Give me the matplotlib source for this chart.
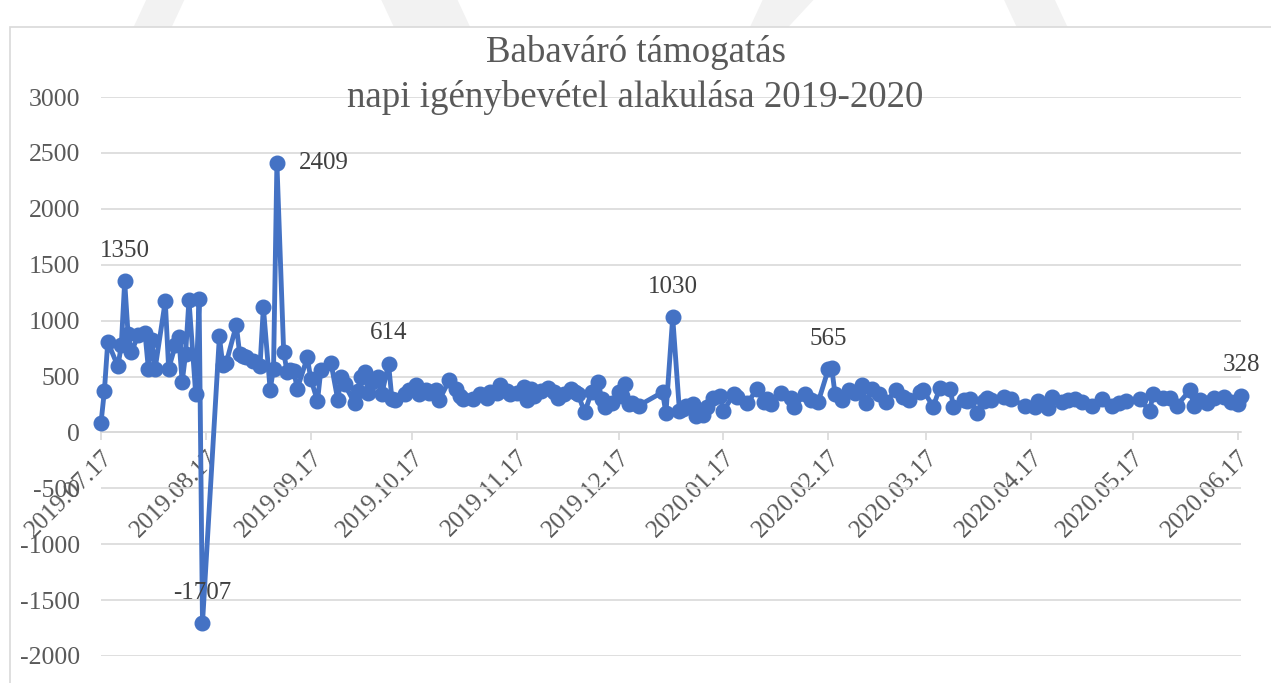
import matplotlib
matplotlib.use("Agg")
import matplotlib.pyplot as plt
from matplotlib.patches import Rectangle, Polygon
from datetime import datetime

dates = [
    "2019.07.17", "2019.07.18", "2019.07.19", "2019.07.22", "2019.07.23", "2019.07.24",
    "2019.07.25", "2019.07.26", "2019.07.28", "2019.07.30", "2019.07.31", "2019.08.01",
    "2019.08.02", "2019.08.05", "2019.08.06", "2019.08.08", "2019.08.09", "2019.08.10",
    "2019.08.11", "2019.08.12", "2019.08.14", "2019.08.15", "2019.08.16", "2019.08.21",
    "2019.08.22", "2019.08.23", "2019.08.26", "2019.08.27", "2019.08.28", "2019.08.29",
    "2019.08.31", "2019.09.02", "2019.09.03", "2019.09.05", "2019.09.06", "2019.09.07",
    "2019.09.09", "2019.09.10", "2019.09.11", "2019.09.12", "2019.09.13", "2019.09.16",
    "2019.09.17", "2019.09.19", "2019.09.20", "2019.09.23", "2019.09.25", "2019.09.26",
    "2019.09.27", "2019.09.30", "2019.10.01", "2019.10.02", "2019.10.03", "2019.10.04",
    "2019.10.05", "2019.10.07", "2019.10.08", "2019.10.10", "2019.10.11", "2019.10.12",
    "2019.10.15", "2019.10.16", "2019.10.18", "2019.10.19", "2019.10.21", "2019.10.22",
    "2019.10.24", "2019.10.25", "2019.10.28", "2019.10.30", "2019.10.31", "2019.11.01",
    "2019.11.04", "2019.11.06", "2019.11.08", "2019.11.09", "2019.11.11", "2019.11.12",
    "2019.11.14", "2019.11.15", "2019.11.17", "2019.11.19", "2019.11.20", "2019.11.21",
    "2019.11.22", "2019.11.24", "2019.11.26", "2019.11.28", "2019.11.29", "2019.12.01",
    "2019.12.03", "2019.12.04", "2019.12.05", "2019.12.07", "2019.12.09", "2019.12.11",
    "2019.12.12", "2019.12.13", "2019.12.15", "2019.12.17", "2019.12.18", "2019.12.19",
    "2019.12.20", "2019.12.21", "2019.12.23", "2019.12.30", "2019.12.31", "2020.01.02",
    "2020.01.04", "2020.01.05", "2020.01.06", "2020.01.08", "2020.01.09", "2020.01.11",
    "2020.01.12", "2020.01.14", "2020.01.16", "2020.01.17", "2020.01.20", "2020.01.21",
    "2020.01.24", "2020.01.27", "2020.01.29", "2020.01.30", "2020.01.31", "2020.02.03",
    "2020.02.06", "2020.02.07", "2020.02.10", "2020.02.12", "2020.02.14", "2020.02.17",
    "2020.02.18", "2020.02.19", "2020.02.21", "2020.02.23", "2020.02.25", "2020.02.27",
    "2020.02.28", "2020.03.01", "2020.03.03", "2020.03.05", "2020.03.08", "2020.03.10",
    "2020.03.12", "2020.03.15", "2020.03.16", "2020.03.19", "2020.03.21", "2020.03.24",
    "2020.03.25", "2020.03.28", "2020.03.29", "2020.03.30", "2020.04.01", "2020.04.03",
    "2020.04.04", "2020.04.05", "2020.04.09", "2020.04.11", "2020.04.15", "2020.04.18",
    "2020.04.19", "2020.04.22", "2020.04.23", "2020.04.26", "2020.04.28", "2020.04.30",
    "2020.05.02", "2020.05.05", "2020.05.08", "2020.05.11", "2020.05.13", "2020.05.15",
    "2020.05.19", "2020.05.22", "2020.05.23", "2020.05.26", "2020.05.28", "2020.05.30",
    "2020.06.03", "2020.06.04", "2020.06.06", "2020.06.08", "2020.06.10", "2020.06.13",
    "2020.06.15", "2020.06.17", "2020.06.18",
]

values = [
    85, 370, 810, 590, 780, 1350,
    880, 720, 870, 890, 570, 830,
    570, 1175, 570, 780, 850, 450,
    700, 1185, 340, 1190, -1707, 860,
    600, 620, 960, 700, 680, 670,
    640, 590, 1120, 380, 570, 2409,
    720, 540, 560, 550, 390, 670,
    480, 280, 560, 620, 290, 500,
    430, 260, 370, 500, 540, 350,
    450, 500, 340, 614, 300, 290,
    340, 380, 420, 340, 380, 350,
    380, 290, 470, 390, 330, 300,
    300, 340, 310, 360, 350, 420,
    370, 340, 350, 410, 290, 390,
    330, 370, 400, 360, 310, 340,
    390, 360, 340, 180, 360, 450,
    300, 230, 260, 360, 330, 430,
    250, 260, 240, 360, 170, 1030,
    190, 210, 240, 250, 150, 160,
    230, 310, 330, 190, 340, 320,
    260, 390, 270, 300, 250, 350,
    310, 230, 340, 290, 270, 565,
    580, 340, 290, 380, 350, 420,
    260, 390, 340, 270, 380, 320,
    290, 360, 380, 230, 400, 390,
    230, 290, 280, 300, 170, 280,
    310, 290, 320, 300, 240, 230,
    280, 220, 320, 270, 290, 300,
    270, 240, 300, 240, 260, 280,
    300, 190, 340, 310, 310, 240,
    380, 240, 290, 260, 310, 320,
    270, 250, 328,
]

# labelled points: (date, value, placement)
labels = [
    ("2019.07.24", 1350, "above"),
    ("2019.09.07", 2409, "right"),
    ("2019.08.16", -1707, "above"),
    ("2019.10.10", 614, "above"),
    ("2020.01.02", 1030, "above"),
    ("2020.02.17", 565, "above"),
    ("2020.06.18", 328, "above"),
]

tick_labels = ["2019.07.17", "2019.08.17", "2019.09.17", "2019.10.17", "2019.11.17",
               "2019.12.17", "2020.01.17", "2020.02.17", "2020.03.17", "2020.04.17",
               "2020.05.17", "2020.06.17"]
y_ticks = [-2000, -1500, -1000, -500, 0, 500, 1000, 1500, 2000, 2500, 3000]

title = "Babaváró támogatás\nnapi igénybevétel alakulása 2019-2020"

LINE = "#4472C4"
GRID = "#D9D9D9"
TXT = "#595959"
FONT = "Liberation Serif"


def parse(s):
    return datetime.strptime(s, "%Y.%m.%d")


x = [parse(d) for d in dates]

fig = plt.figure(figsize=(12.71, 6.83), dpi=100)
fig.patch.set_facecolor("white")

# faint background watermark strip above chart area
for pts in [[(0.115, 1.0), (0.145, 1.0), (0.135, 0.96), (0.105, 0.96)],
            [(0.30, 1.0), (0.36, 1.0), (0.37, 0.96), (0.31, 0.96)],
            [(0.60, 1.0), (0.64, 1.0), (0.62, 0.96), (0.59, 0.96)],
            [(0.79, 1.0), (0.83, 1.0), (0.84, 0.96), (0.80, 0.96)]]:
    fig.patches.append(Polygon(pts, closed=True, transform=fig.transFigure,
                               facecolor="#F2F2F2", edgecolor="none", zorder=0))

# chart area border
fig.patches.append(Rectangle((10 / 1271, -0.01), 1.2, (683 - 27) / 683 + 0.01,
                             transform=fig.transFigure, facecolor="white",
                             edgecolor=GRID, linewidth=1.2, zorder=0.5))

ax = fig.add_axes([101 / 1271, 27 / 683, 1140 / 1271, 559 / 683])
ax.set_zorder(2)
ax.set_facecolor("none")

ax.plot(x, values, color=LINE, linewidth=3.5, marker="o", markersize=10.5,
        markerfacecolor=LINE, markeredgecolor=LINE, zorder=3, clip_on=False)

ax.set_ylim(-2000, 3000)
ax.set_xlim(parse(dates[0]), parse(dates[-1]))
ax.set_yticks(y_ticks)
ax.set_yticklabels([str(v) for v in y_ticks], fontsize=18.5, color=TXT, family=FONT)
ax.tick_params(axis="y", length=0, pad=15)
ax.grid(axis="y", color=GRID, linewidth=1.2)
ax.set_axisbelow(True)

for s in ["top", "right", "left"]:
    ax.spines[s].set_visible(False)
ax.spines["bottom"].set_position(("data", 0))
ax.spines["bottom"].set_color(GRID)
ax.spines["bottom"].set_linewidth(1.2)

ax.set_xticks([parse(t) for t in tick_labels])
ax.set_xticklabels(tick_labels, rotation=45, ha="right", va="top",
                   rotation_mode="anchor", fontsize=18, color=TXT, family=FONT)
ax.tick_params(axis="x", length=6, width=1.2, color=GRID, direction="out", pad=4)

for d, v, where in labels:
    if where == "right":
        ax.annotate(str(v), (parse(d), v), xytext=(16, 0), textcoords="offset points",
                    ha="left", va="center", fontsize=18, color="#404040", family=FONT)
    else:
        ax.annotate(str(v), (parse(d), v), xytext=(0, 22), textcoords="offset points",
                    ha="center", va="center", fontsize=18, color="#404040", family=FONT)

fig.text(0.5, 1 - 75 / 683, title, ha="center", va="center", fontsize=26.6,
         color=TXT, family=FONT, linespacing=1.4)

fig.savefig("out.png", dpi=100, facecolor="white")
